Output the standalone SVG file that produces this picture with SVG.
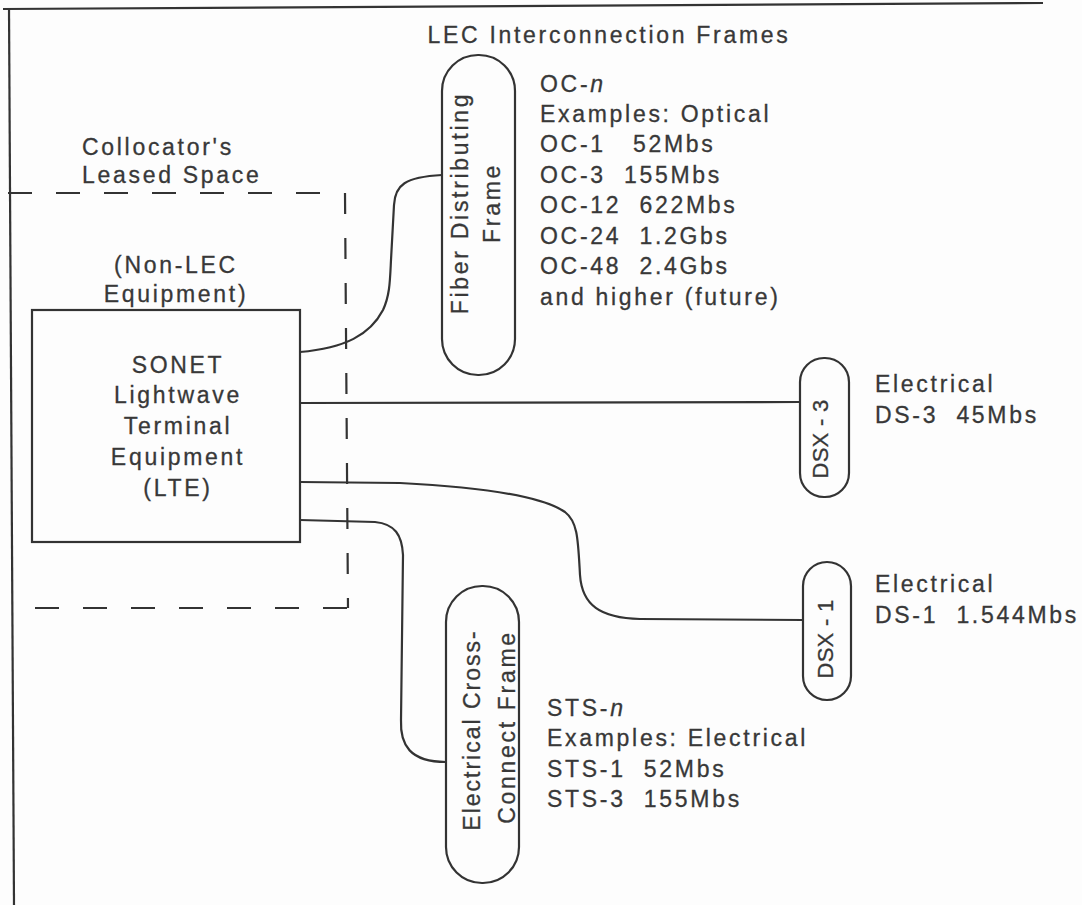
<svg xmlns="http://www.w3.org/2000/svg" width="1082" height="905" viewBox="0 0 1082 905">
<style>
text{font-family:"Liberation Sans",Arial,sans-serif;font-size:23px;fill:#383838;stroke:#383838;stroke-width:0.3;letter-spacing:2.7px}
.ln{fill:none;stroke:#333;stroke-width:2.2}
.dash{fill:none;stroke:#333;stroke-width:2.2;stroke-dasharray:24 24}
.vdash{fill:none;stroke:#333;stroke-width:2.2;stroke-dasharray:21 24}
.pill{fill:none;stroke:#333;stroke-width:2.2}
.mid{text-anchor:middle}
.dsx{font-size:22px;letter-spacing:0.3px}
</style>
<rect width="1082" height="905" fill="#fdfdfd"/>
<g id="frame">
<path class="ln" d="M3,9 L1043,3" stroke-width="2.8"/>
<path class="ln" d="M9,8 L14,905"/>
</g>
<g id="title">
<text x="609" y="43" class="mid">LEC Interconnection Frames</text>
</g>
<g id="leased-space">
<text x="82" y="155">Collocator's</text>
<text x="82" y="183">Leased Space</text>
<path class="dash" d="M8,193 L322,193"/>
<path class="vdash" d="M345,193 L348,608"/>
<path class="dash" d="M35,608 L348,608"/>
</g>
<g id="lte">
<text x="176" y="273" class="mid">(Non-LEC</text>
<text x="176" y="302" class="mid">Equipment)</text>
<rect x="32" y="310" width="268" height="232" class="ln"/>
<text x="178" y="373" class="mid">SONET</text>
<text x="178" y="403" class="mid">Lightwave</text>
<text x="178" y="434" class="mid">Terminal</text>
<text x="178" y="465" class="mid">Equipment</text>
<text x="178" y="496" class="mid">(LTE)</text>
</g>
<g id="fiber-frame">
<rect x="442" y="55" width="73" height="320" rx="36" ry="36" class="pill"/>
<text transform="translate(468,203) rotate(-90)" class="mid">Fiber Distributing</text>
<text transform="translate(500,203) rotate(-90)" class="mid">Frame</text>
<text x="540" y="92">OC-<tspan font-style="italic">n</tspan></text>
<text x="540" y="122">Examples: Optical</text>
<text x="540" y="152" xml:space="preserve">OC-1   52Mbs</text>
<text x="540" y="183" xml:space="preserve">OC-3  155Mbs</text>
<text x="540" y="213" xml:space="preserve">OC-12  622Mbs</text>
<text x="540" y="244" xml:space="preserve">OC-24  1.2Gbs</text>
<text x="540" y="274" xml:space="preserve">OC-48  2.4Gbs</text>
<text x="540" y="305">and higher (future)</text>
</g>
<g id="dsx3">
<rect x="800" y="358" width="49" height="139" rx="24" ry="24" class="pill"/>
<text transform="translate(828,439) rotate(-90)" class="mid dsx" xml:space="preserve">DSX - 3</text>
<text x="875" y="392">Electrical</text>
<text x="875" y="423" xml:space="preserve">DS-3  45Mbs</text>
</g>
<g id="dsx1">
<rect x="803" y="562" width="48" height="138" rx="24" ry="24" class="pill"/>
<text transform="translate(833,639) rotate(-90)" class="mid dsx" xml:space="preserve">DSX - 1</text>
<text x="875" y="592">Electrical</text>
<text x="875" y="623" xml:space="preserve">DS-1  1.544Mbs</text>
</g>
<g id="cross-connect">
<rect x="446" y="586" width="73" height="297" rx="36" ry="36" class="pill"/>
<text transform="translate(480,730) rotate(-90)" class="mid" style="letter-spacing:2px">Electrical Cross-</text>
<text transform="translate(515,727) rotate(-90)" class="mid">Connect Frame</text>
<text x="547" y="716">STS-<tspan font-style="italic">n</tspan></text>
<text x="547" y="746">Examples: Electrical</text>
<text x="547" y="777" xml:space="preserve">STS-1  52Mbs</text>
<text x="547" y="807" xml:space="preserve">STS-3  155Mbs</text>
</g>
<g id="connectors">
<path class="ln" d="M300,352 C345,348 370,335 383,310 C390,295 390,280 391,260 L394,205 C395,185 405,177 442,175"/>
<path class="ln" d="M300,403 L800,402"/>
<path class="ln" d="M300,482 L400,483 C480,487 540,495 565,512 C578,522 578,540 580,575 C582,605 600,618 640,619 L803,620"/>
<path class="ln" d="M300,520 L375,522 C395,524 402,535 403,555 L401,720 C400,745 410,762 446,762"/>
</g>
</svg>
